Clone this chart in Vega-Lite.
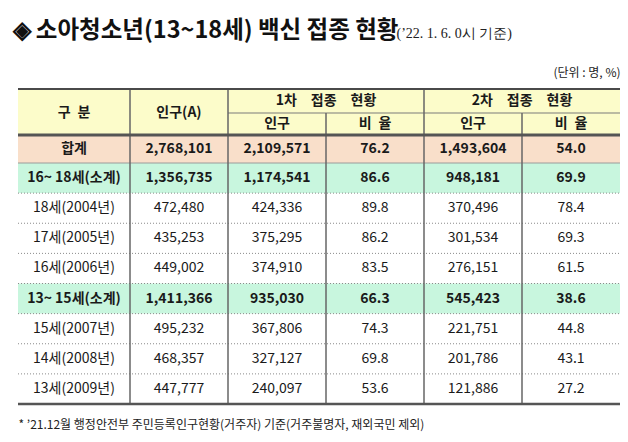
{
  "$schema": "https://vega.github.io/schema/vega-lite/v6.json",
  "width": 602,
  "height": 315,
  "autosize": {"type": "none"},
  "padding": {"left": 18, "top": 89, "right": 8, "bottom": 38},
  "background": "white",
  "config": {
    "view": {"stroke": null},
    "axis": {"domain": false, "ticks": false, "labels": false, "grid": false},
    "text": {"font": "Noto Sans CJK KR", "fontSize": 14, "color": "#1a1a1a"}
  },
  "datasets": {
    "table": [
      {"group": "합계", "pop": 2768101, "dose1": 2109571, "rate1": 76.2, "dose2": 1493604, "rate2": 54.0},
      {"group": "16~ 18세(소계)", "pop": 1356735, "dose1": 1174541, "rate1": 86.6, "dose2": 948181, "rate2": 69.9},
      {"group": "18세(2004년)", "pop": 472480, "dose1": 424336, "rate1": 89.8, "dose2": 370496, "rate2": 78.4},
      {"group": "17세(2005년)", "pop": 435253, "dose1": 375295, "rate1": 86.2, "dose2": 301534, "rate2": 69.3},
      {"group": "16세(2006년)", "pop": 449002, "dose1": 374910, "rate1": 83.5, "dose2": 276151, "rate2": 61.5},
      {"group": "13~ 15세(소계)", "pop": 1411366, "dose1": 935030, "rate1": 66.3, "dose2": 545423, "rate2": 38.6},
      {"group": "15세(2007년)", "pop": 495232, "dose1": 367806, "rate1": 74.3, "dose2": 221751, "rate2": 44.8},
      {"group": "14세(2008년)", "pop": 468357, "dose1": 327127, "rate1": 69.8, "dose2": 201786, "rate2": 43.1},
      {"group": "13세(2009년)", "pop": 447777, "dose1": 240097, "rate1": 53.6, "dose2": 121886, "rate2": 27.2}
    ],
    "header": [
      {"text": "구\u2002분", "c0": 0, "c1": 1, "r0": 0, "r1": 2},
      {"text": "인구(A)", "c0": 1, "c1": 2, "r0": 0, "r1": 2},
      {"text": "1차\u2003접종\u2003현황", "c0": 2, "c1": 4, "r0": 0, "r1": 1},
      {"text": "2차\u2003접종\u2003현황", "c0": 4, "c1": 6, "r0": 0, "r1": 1},
      {"text": "인구", "c0": 2, "c1": 3, "r0": 1, "r1": 2},
      {"text": "비\u2002율", "c0": 3, "c1": 4, "r0": 1, "r1": 2},
      {"text": "인구", "c0": 4, "c1": 5, "r0": 1, "r1": 2},
      {"text": "비\u2002율", "c0": 5, "c1": 6, "r0": 1, "r1": 2}
    ],
    "vlines": [
      {"c": 1, "top": 0},
      {"c": 2, "top": 0},
      {"c": 3, "top": 1},
      {"c": 4, "top": 0},
      {"c": 5, "top": 1}
    ],
    "one": [{}]
  },
  "layer": [
    {
      "data": {"name": "table"},
      "transform": [
        {"window": [{"op": "row_number", "as": "idx"}]},
        {"calculate": "datum.idx + 1", "as": "r0"},
        {"calculate": "datum.idx + 2", "as": "r1"},
        {"calculate": "datum.group == '합계' ? 'total' : (indexof(datum.group, '소계') >= 0 ? 'sub' : 'row')", "as": "kind"}
      ],
      "mark": {"type": "rect"},
      "encoding": {
        "x": {"datum": 0, "type": "quantitative",
          "scale": {"type": "linear", "domain": [0, 1, 6], "range": [0, 112, 602], "nice": false, "zero": false},
          "axis": {"orient": "top", "title": "(단위 : 명, %)", "titleX": 602, "titleY": -17, "titleAlign": "right", "titleAnchor": null, "titleBaseline": "middle", "titleFont": "Noto Sans CJK KR", "titleFontSize": 12, "titleFontWeight": "normal", "titleColor": "#222"}},
        "x2": {"datum": 6},
        "y": {"field": "r0", "type": "quantitative",
          "scale": {"type": "linear", "domain": [0, 1, 2, 3, 11], "range": [0, 24, 46, 74, 315], "nice": false, "zero": false},
          "axis": {"orient": "left", "title": "◈ 소아청소년(13~18세) 백신 접종 현황", "titleAngle": 0, "titleX": -6, "titleY": -52, "titleAlign": "left", "titleAnchor": null, "titleBaseline": "alphabetic", "titleFont": "Noto Sans CJK KR", "titleFontSize": 23.5, "titleFontWeight": "bold", "titleColor": "#111"}},
        "y2": {"field": "r1"},
        "color": {"field": "kind", "type": "nominal", "scale": {"domain": ["total", "sub", "row"], "range": ["#f9dfca", "#c8f6de", "#ffffff"]}, "legend": null}
      }
    },
    {
      "data": {"name": "one"},
      "mark": {"type": "rect", "color": "#fcfcca"},
      "encoding": {
        "x": {"datum": 0, "type": "quantitative",
          "scale": {"type": "linear", "domain": [0, 1, 6], "range": [0, 112, 602], "nice": false, "zero": false},
          "axis": {"orient": "bottom", "title": "* ’21.12월 행정안전부 주민등록인구현황(거주자) 기준(거주불명자, 재외국민 제외)", "titleX": 0, "titleY": 20, "titleAlign": "left", "titleAnchor": null, "titleBaseline": "middle", "titleFont": "Noto Sans CJK KR", "titleFontSize": 12, "titleFontWeight": "normal", "titleColor": "#222"}},
        "x2": {"datum": 6},
        "y": {"datum": 0, "type": "quantitative",
          "scale": {"type": "linear", "domain": [0, 1, 2, 3, 11], "range": [0, 24, 46, 74, 315], "nice": false, "zero": false},
          "axis": {"orient": "right", "title": "(’22. 1. 6. 0시 기준)", "titleAngle": 0, "titleX": -224, "titleY": -52, "titleAlign": "left", "titleAnchor": null, "titleBaseline": "alphabetic", "titleFont": "Liberation Serif", "titleFontSize": 14, "titleFontWeight": "normal", "titleColor": "#222"}},
        "y2": {"datum": 2}
      }
    },
    {
      "data": {"name": "table"},
      "transform": [
        {"window": [{"op": "row_number", "as": "idx"}]},
        {"filter": "datum.idx >= 2 && datum.idx <= 8"},
        {"calculate": "datum.idx + 2", "as": "r1"}
      ],
      "mark": {"type": "rule", "color": "#8a8a8a", "strokeWidth": 1, "strokeDash": [1, 2]},
      "encoding": {
        "x": {"datum": 0, "type": "quantitative", "scale": {"type": "linear", "domain": [0, 1, 6], "range": [0, 112, 602], "nice": false, "zero": false}, "axis": null},
        "x2": {"datum": 6},
        "y": {"field": "r1", "type": "quantitative", "scale": {"type": "linear", "domain": [0, 1, 2, 3, 11], "range": [0, 24, 46, 74, 315], "nice": false, "zero": false}, "axis": null}
      }
    },
    {
      "data": {"name": "one"},
      "mark": {"type": "rule", "color": "#9a9a9a", "strokeWidth": 1},
      "encoding": {
        "x": {"datum": 0, "type": "quantitative", "scale": {"type": "linear", "domain": [0, 1, 6], "range": [0, 112, 602], "nice": false, "zero": false}, "axis": null},
        "x2": {"datum": 6},
        "y": {"datum": 3, "type": "quantitative", "scale": {"type": "linear", "domain": [0, 1, 2, 3, 11], "range": [0, 24, 46, 74, 315], "nice": false, "zero": false}, "axis": null}
      }
    },
    {
      "data": {"name": "one"},
      "mark": {"type": "rule", "color": "#7a7a7a", "strokeWidth": 1},
      "encoding": {
        "x": {"datum": 2, "type": "quantitative", "scale": {"type": "linear", "domain": [0, 1, 6], "range": [0, 112, 602], "nice": false, "zero": false}, "axis": null},
        "x2": {"datum": 6},
        "y": {"datum": 1, "type": "quantitative", "scale": {"type": "linear", "domain": [0, 1, 2, 3, 11], "range": [0, 24, 46, 74, 315], "nice": false, "zero": false}, "axis": null}
      }
    },
    {
      "data": {"name": "vlines"},
      "mark": {"type": "rule", "color": "#666666", "strokeWidth": 1.5},
      "encoding": {
        "x": {"field": "c", "type": "quantitative", "scale": {"type": "linear", "domain": [0, 1, 6], "range": [0, 112, 602], "nice": false, "zero": false}, "axis": null},
        "y": {"field": "top", "type": "quantitative", "scale": {"type": "linear", "domain": [0, 1, 2, 3, 11], "range": [0, 24, 46, 74, 315], "nice": false, "zero": false}, "axis": null},
        "y2": {"datum": 11}
      }
    },
    {
      "data": {"name": "one"},
      "mark": {"type": "rule", "color": "#4a4a4a", "strokeWidth": 2},
      "encoding": {
        "x": {"datum": 0, "type": "quantitative", "scale": {"type": "linear", "domain": [0, 1, 6], "range": [0, 112, 602], "nice": false, "zero": false}, "axis": null},
        "x2": {"datum": 6},
        "y": {"datum": 0, "type": "quantitative", "scale": {"type": "linear", "domain": [0, 1, 2, 3, 11], "range": [0, 24, 46, 74, 315], "nice": false, "zero": false}, "axis": null}
      }
    },
    {
      "data": {"name": "one"},
      "mark": {"type": "rule", "color": "#555555", "strokeWidth": 3},
      "encoding": {
        "x": {"datum": 0, "type": "quantitative", "scale": {"type": "linear", "domain": [0, 1, 6], "range": [0, 112, 602], "nice": false, "zero": false}, "axis": null},
        "x2": {"datum": 6},
        "y": {"datum": 2, "type": "quantitative", "scale": {"type": "linear", "domain": [0, 1, 2, 3, 11], "range": [0, 24, 46, 74, 315], "nice": false, "zero": false}, "axis": null}
      }
    },
    {
      "data": {"name": "one"},
      "mark": {"type": "rule", "color": "#555555", "strokeWidth": 2.5},
      "encoding": {
        "x": {"datum": 0, "type": "quantitative", "scale": {"type": "linear", "domain": [0, 1, 6], "range": [0, 112, 602], "nice": false, "zero": false}, "axis": null},
        "x2": {"datum": 6},
        "y": {"datum": 11, "type": "quantitative", "scale": {"type": "linear", "domain": [0, 1, 2, 3, 11], "range": [0, 24, 46, 74, 315], "nice": false, "zero": false}, "axis": null}
      }
    },
    {
      "data": {"name": "header"},
      "transform": [
        {"calculate": "(datum.c0 + datum.c1) / 2", "as": "cx"},
        {"calculate": "(datum.r0 + datum.r1) / 2", "as": "ry"}
      ],
      "mark": {"type": "text", "fontWeight": "bold", "fontSize": 14, "baseline": "middle", "align": "center"},
      "encoding": {
        "x": {"field": "cx", "type": "quantitative", "scale": {"type": "linear", "domain": [0, 1, 6], "range": [0, 112, 602], "nice": false, "zero": false}, "axis": null},
        "y": {"field": "ry", "type": "quantitative", "scale": {"type": "linear", "domain": [0, 1, 2, 3, 11], "range": [0, 24, 46, 74, 315], "nice": false, "zero": false}, "axis": null},
        "text": {"field": "text", "type": "nominal"}
      }
    },
    {
      "data": {"name": "table"},
      "transform": [
        {"window": [{"op": "row_number", "as": "idx"}]},
        {"calculate": "datum.idx + 1.5", "as": "ry"},
        {"calculate": "datum.group == '합계' || indexof(datum.group, '소계') >= 0 ? 'bold' : 'row'", "as": "weight"},
        {"filter": "datum.weight == 'bold'"},
        {"fold": ["group", "pop", "dose1", "rate1", "dose2", "rate2"], "as": ["key", "value"]},
        {"calculate": "indexof(['group','pop','dose1','rate1','dose2','rate2'], datum.key) + 0.5", "as": "cx"},
        {"calculate": "datum.key == 'group' ? datum.value : (datum.key == 'rate1' || datum.key == 'rate2' ? format(datum.value, '.1f') : format(datum.value, ','))", "as": "label"}
      ],
      "mark": {"type": "text", "fontWeight": "bold", "fontSize": 14, "baseline": "middle", "align": "center"},
      "encoding": {
        "x": {"field": "cx", "type": "quantitative", "scale": {"type": "linear", "domain": [0, 1, 6], "range": [0, 112, 602], "nice": false, "zero": false}, "axis": null},
        "y": {"field": "ry", "type": "quantitative", "scale": {"type": "linear", "domain": [0, 1, 2, 3, 11], "range": [0, 24, 46, 74, 315], "nice": false, "zero": false}, "axis": null},
        "text": {"field": "label", "type": "nominal"}
      }
    },
    {
      "data": {"name": "table"},
      "transform": [
        {"window": [{"op": "row_number", "as": "idx"}]},
        {"calculate": "datum.idx + 1.5", "as": "ry"},
        {"calculate": "datum.group == '합계' || indexof(datum.group, '소계') >= 0 ? 'bold' : 'row'", "as": "weight"},
        {"filter": "datum.weight == 'row'"},
        {"fold": ["group", "pop", "dose1", "rate1", "dose2", "rate2"], "as": ["key", "value"]},
        {"calculate": "indexof(['group','pop','dose1','rate1','dose2','rate2'], datum.key) + 0.5", "as": "cx"},
        {"calculate": "datum.key == 'group' ? datum.value : (datum.key == 'rate1' || datum.key == 'rate2' ? format(datum.value, '.1f') : format(datum.value, ','))", "as": "label"}
      ],
      "mark": {"type": "text", "fontWeight": "normal", "fontSize": 14, "baseline": "middle", "align": "center"},
      "encoding": {
        "x": {"field": "cx", "type": "quantitative", "scale": {"type": "linear", "domain": [0, 1, 6], "range": [0, 112, 602], "nice": false, "zero": false}, "axis": null},
        "y": {"field": "ry", "type": "quantitative", "scale": {"type": "linear", "domain": [0, 1, 2, 3, 11], "range": [0, 24, 46, 74, 315], "nice": false, "zero": false}, "axis": null},
        "text": {"field": "label", "type": "nominal"}
      }
    }
  ],
  "resolve": {"axis": {"x": "independent", "y": "independent"}}
}
